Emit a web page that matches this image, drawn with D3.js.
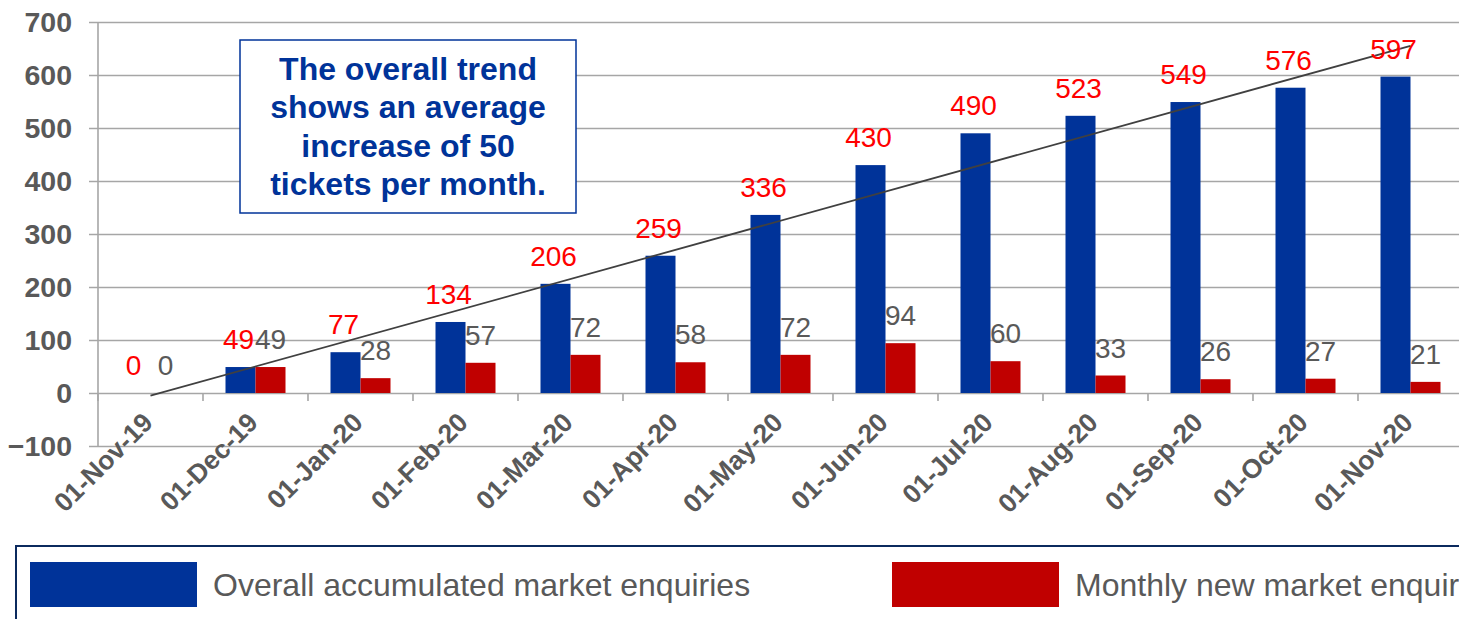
<!DOCTYPE html>
<html lang="en">
  <head>
    <meta charset="UTF-8" />
    <title>Market enquiries</title>
    <script src="https://d3js.org/d3.v7.min.js"></script>
    <style>
      body {
        margin: 0;
        font-family: "Liberation Sans", Arial, sans-serif;
        background: #fff;
      }
      svg {
        display: block;
      }
    </style>
  </head>
  <body>
    <svg width="1459" height="619"></svg>
    <script>
      // Data
      const months = [
        "01-Nov-19", "01-Dec-19", "01-Jan-20", "01-Feb-20", "01-Mar-20",
        "01-Apr-20", "01-May-20", "01-Jun-20", "01-Jul-20", "01-Aug-20",
        "01-Sep-20", "01-Oct-20", "01-Nov-20",
      ];
      const accumulated = [0, 49, 77, 134, 206, 259, 336, 430, 490, 523, 549, 576, 597];
      const monthly = [0, 49, 28, 57, 72, 58, 72, 94, 60, 33, 26, 27, 21];
      const yTicks = [-100, 0, 100, 200, 300, 400, 500, 600, 700];
      const seriesNames = ["Overall accumulated market enquiries", "Monthly new market enquiries"];
      const noteLines = ["The overall trend", "shows an average", "increase of 50", "tickets per month."];

      const blue = "#003399";
      const red = "#c00000";
      const grey = "#595959";

      const svg = d3.select("svg");

      // plot area (right edge runs slightly past the window, as in the original)
      const plot = { left: 98, right: 1463, top: 22, bottom: 446 };

      const x = d3.scaleBand().domain(months).range([plot.left, plot.right]);
      const y = d3.scaleLinear().domain([-100, 700]).range([plot.bottom, plot.top]);

      const barW = 30;

      // gridlines + y axis labels
      const yAxis = d3
        .axisLeft(y)
        .tickValues(yTicks)
        .tickSize(-(plot.right - plot.left))
        .tickSizeOuter(0)
        .tickPadding(26);
      const gy = svg.append("g").attr("transform", `translate(${plot.left},0)`).call(yAxis);
      gy.select(".domain").remove();
      gy.selectAll(".tick line")
        .attr("x1", -9)
        .attr("stroke", "#a6a6a6")
        .attr("stroke-width", 1.6);
      gy.selectAll(".tick text")
        .attr("fill", grey)
        .attr("font-size", 28.5)
        .attr("font-weight", "bold")
        .attr("font-family", "Liberation Sans, Arial, sans-serif");

      // vertical axis line
      svg.append("line")
        .attr("x1", plot.left).attr("x2", plot.left)
        .attr("y1", plot.top).attr("y2", plot.bottom)
        .attr("stroke", "#a6a6a6")
        .attr("stroke-width", 1.6);

      // category ticks on the zero line
      svg.append("g")
        .selectAll("line")
        .data(months)
        .join("line")
        .attr("x1", (d) => x(d)).attr("x2", (d) => x(d))
        .attr("y1", y(0)).attr("y2", y(0) + 8)
        .attr("stroke", "#a6a6a6")
        .attr("stroke-width", 1.6);

      // bars
      const bars = svg.append("g");
      const mid = (d) => x(d) + x.bandwidth() / 2;
      bars.selectAll(".acc")
        .data(months)
        .join("rect")
        .attr("x", (d) => mid(d) - barW)
        .attr("y", (d, i) => y(accumulated[i]))
        .attr("width", barW)
        .attr("height", (d, i) => y(0) - y(accumulated[i]))
        .attr("fill", blue);
      bars.selectAll(".mon")
        .data(months)
        .join("rect")
        .attr("x", (d) => mid(d))
        .attr("y", (d, i) => y(monthly[i]))
        .attr("width", barW)
        .attr("height", (d, i) => y(0) - y(monthly[i]))
        .attr("fill", red);

      // linear trend of the accumulated series (least squares)
      const n = accumulated.length;
      const mx = d3.mean(accumulated, (d, i) => i);
      const my = d3.mean(accumulated);
      const slope =
        d3.sum(accumulated, (d, i) => (i - mx) * (d - my)) /
        d3.sum(accumulated, (d, i) => (i - mx) * (i - mx));
      const icpt = my - slope * mx;
      svg.append("line")
        .attr("x1", mid(months[0]))
        .attr("y1", y(icpt))
        .attr("x2", mid(months[n - 1]))
        .attr("y2", y(icpt + slope * (n - 1)))
        .attr("stroke", "#404040")
        .attr("stroke-width", 1.8);

      // value labels
      const labels = svg.append("g")
        .attr("font-size", 28)
        .attr("text-anchor", "middle");
      labels.selectAll(".la")
        .data(months)
        .join("text")
        .attr("x", (d) => mid(d) - barW / 2 - 2)
        .attr("y", (d, i) => y(accumulated[i]) - 18)
        .attr("fill", "#ff0000")
        .text((d, i) => accumulated[i]);
      labels.selectAll(".lm")
        .data(months)
        .join("text")
        .attr("x", (d) => mid(d) + barW / 2)
        .attr("y", (d, i) => y(monthly[i]) - 18)
        .attr("fill", grey)
        .text((d, i) => monthly[i]);

      // rotated month labels
      svg.append("g")
        .selectAll("text")
        .data(months)
        .join("text")
        .attr("transform", (d) => `translate(${mid(d) + 4},${y(0) + 31}) rotate(-45)`)
        .attr("text-anchor", "end")
        .attr("fill", grey)
        .attr("font-size", 26.5)
        .attr("font-weight", "bold")
        .text((d) => d);

      // note box
      const note = svg.append("g");
      note.append("rect")
        .attr("x", 240).attr("y", 40)
        .attr("width", 336).attr("height", 173)
        .attr("fill", "#fff")
        .attr("stroke", blue)
        .attr("stroke-width", 1.5);
      note.selectAll("text")
        .data(noteLines)
        .join("text")
        .attr("x", 408)
        .attr("y", (d, i) => 80 + i * 38.3)
        .attr("text-anchor", "middle")
        .attr("fill", blue)
        .attr("font-size", 32)
        .attr("font-weight", "bold")
        .text((d) => d);

      // legend (runs off the right side)
      const legend = svg.append("g");
      legend.append("rect")
        .attr("x", 16).attr("y", 546)
        .attr("width", 1500).attr("height", 120)
        .attr("fill", "none")
        .attr("stroke", "#0b2a5e")
        .attr("stroke-width", 2);
      const items = legend.selectAll("g")
        .data(seriesNames)
        .join("g")
        .attr("transform", (d, i) => `translate(${i === 0 ? 30 : 892},562)`);
      items.append("rect")
        .attr("width", 167).attr("height", 45)
        .attr("fill", (d, i) => (i === 0 ? blue : red));
      items.append("text")
        .attr("x", 183).attr("y", 34)
        .attr("fill", grey)
        .attr("font-size", 32)
        .text((d) => d);
    </script>
  </body>
</html>
